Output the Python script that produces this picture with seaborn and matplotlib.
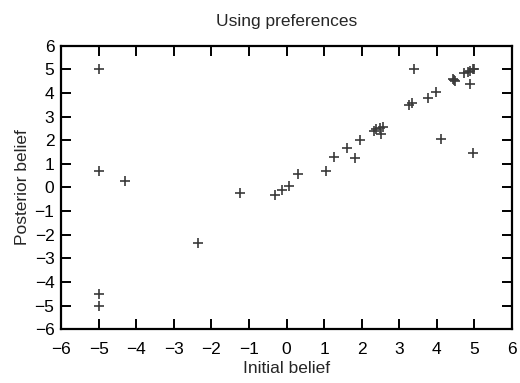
import numpy as np
import pandas as pd
import matplotlib
matplotlib.use("Agg")
import matplotlib.pyplot as plt
import seaborn as sns

initial_belief = [-5.0, -5.0, -4.30, -1.25, -0.31, -0.11, 0.06, 0.31,
                  1.04, 1.26, 1.62, 1.82, 1.97, 2.32, 2.39, 2.48, 2.57, 2.52,
                  3.26, 3.35, 3.40, 3.77, 3.98, 4.12, 4.43, 4.45, 4.49,
                  4.74, 4.83, 4.89, 4.96, 5.0, 4.90, 4.97,
                  -2.35, -5.0, -5.0]
posterior_belief = [5.0, 0.69, 0.27, -0.22, -0.30, -0.11, 0.08, 0.58,
                    0.69, 1.30, 1.67, 1.23, 1.99, 2.39, 2.46, 2.50, 2.57, 2.25,
                    3.47, 3.56, 5.0, 3.80, 4.04, 2.06, 4.58, 4.55, 4.50,
                    4.82, 4.89, 4.92, 5.0, 5.0, 4.36, 1.44,
                    -2.34, -4.5, -5.0]
ticks = list(range(-6, 7))

sns.set_style("ticks")
plt.rcParams['font.family'] = ['Liberation Sans', 'DejaVu Sans']

df = pd.DataFrame({'x': initial_belief, 'y': posterior_belief})

fig = plt.figure(figsize=(5.2, 3.83), dpi=100)
ax = fig.add_axes([0.118, 0.14, 0.866, 0.741])

sns.scatterplot(data=df, x='x', y='y', marker='+', s=60, color='#3a3a3a',
                linewidth=1.2, ax=ax, legend=False)

ax.set_xlim(-6, 6)
ax.set_ylim(-6, 6)
ax.set_xticks(ticks)
ax.set_yticks(ticks)
ax.tick_params(direction='in', length=7, width=1.4, labelsize=12.5,
               top=True, right=True, colors='black')
ax.tick_params(axis='x', labeltop=False, pad=9)
ax.tick_params(axis='y', labelright=False, pad=5)
for s in ax.spines.values():
    s.set_visible(True)
    s.set_linewidth(1.6)
    s.set_color('black')

ax.set_title('Using preferences', fontsize=12.5, pad=14)
ax.set_xlabel('Initial belief', fontsize=12.5, labelpad=3)
ax.set_ylabel('Posterior belief', fontsize=12.5, labelpad=3)

fig.savefig('out.png', dpi=100)
